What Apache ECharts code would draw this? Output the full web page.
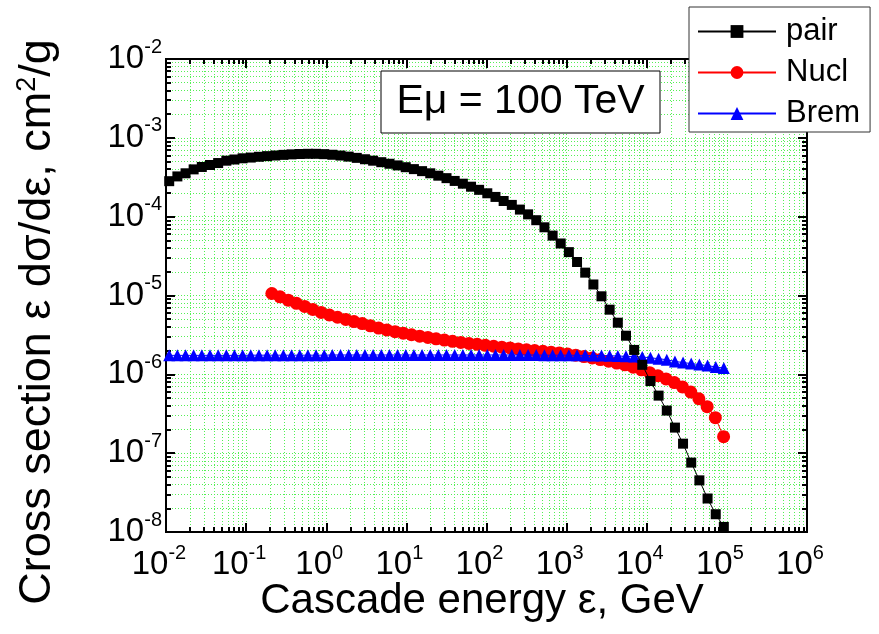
<!DOCTYPE html>
<html><head><meta charset="utf-8">
<script src="https://cdn.jsdelivr.net/npm/echarts@6/dist/echarts.min.js"></script>
<style>html,body{margin:0;padding:0;background:#fff}#c{width:879px;height:634px}</style>
</head><body><div id="c"></div>
<script>
// ---- data ----
const xMajorExp = [-2,-1,0,1,2,3,4,5,6];
const yMajorExp = [-8,-7,-6,-5,-4,-3,-2];
const minorMult = [2,3,4,5,6,7,8,9];

// log10 of cascade energy (GeV) for pair and Brem points
const pairExp = [-1.960,-1.858,-1.756,-1.655,-1.553,-1.451,-1.349,-1.247,-1.146,-1.044,
 -0.942,-0.840,-0.738,-0.637,-0.535,-0.433,-0.331,-0.229,-0.128,-0.026,
 0.076,0.178,0.280,0.381,0.483,0.585,0.687,0.789,0.890,0.992,
 1.094,1.196,1.298,1.399,1.501,1.603,1.705,1.807,1.908,2.010,
 2.112,2.214,2.316,2.417,2.519,2.621,2.723,2.825,2.926,3.028,
 3.130,3.232,3.334,3.435,3.537,3.639,3.741,3.843,3.944,4.046,
 4.148,4.250,4.352,4.453,4.555,4.657,4.759,4.861,4.962];
const pairVal = [2.82e-4,3.24e-4,3.55e-4,3.98e-4,4.27e-4,4.52e-4,4.79e-4,5.13e-4,5.31e-4,5.50e-4,
 5.62e-4,5.75e-4,5.86e-4,5.97e-4,6.08e-4,6.17e-4,6.24e-4,6.27e-4,6.27e-4,6.21e-4,
 6.10e-4,5.96e-4,5.78e-4,5.57e-4,5.35e-4,5.13e-4,4.91e-4,4.69e-4,4.47e-4,4.24e-4,
 4.01e-4,3.78e-4,3.55e-4,3.31e-4,3.08e-4,2.84e-4,2.62e-4,2.40e-4,2.19e-4,1.98e-4,
 1.78e-4,1.58e-4,1.41e-4,1.23e-4,1.07e-4,9.02e-5,7.33e-5,5.75e-5,4.57e-5,3.55e-5,
 2.66e-5,1.95e-5,1.38e-5,9.77e-6,6.61e-6,4.52e-6,3.09e-6,2.04e-6,1.32e-6,8.22e-7,
 5.37e-7,3.47e-7,2.11e-7,1.32e-7,7.59e-8,4.52e-8,2.66e-8,1.68e-8,1.16e-8];
const bremVal = [1.74e-6,1.74e-6,1.74e-6,1.74e-6,1.74e-6,1.74e-6,1.74e-6,1.74e-6,1.74e-6,1.74e-6,
 1.75e-6,1.75e-6,1.75e-6,1.75e-6,1.75e-6,1.75e-6,1.75e-6,1.75e-6,1.75e-6,1.75e-6,
 1.76e-6,1.76e-6,1.76e-6,1.76e-6,1.76e-6,1.76e-6,1.76e-6,1.76e-6,1.76e-6,1.76e-6,
 1.76e-6,1.76e-6,1.76e-6,1.76e-6,1.76e-6,1.76e-6,1.76e-6,1.76e-6,1.76e-6,1.76e-6,
 1.76e-6,1.76e-6,1.76e-6,1.76e-6,1.76e-6,1.76e-6,1.75e-6,1.75e-6,1.75e-6,1.75e-6,
 1.74e-6,1.74e-6,1.73e-6,1.73e-6,1.72e-6,1.71e-6,1.69e-6,1.68e-6,1.66e-6,1.62e-6,
 1.58e-6,1.53e-6,1.46e-6,1.41e-6,1.37e-6,1.33e-6,1.29e-6,1.24e-6,1.20e-6];
// log10 of cascade energy for Nucl points
const nuclExp = [-0.679,-0.577,-0.474,-0.372,-0.269,-0.167,-0.064,0.039,0.141,0.244,
 0.346,0.449,0.551,0.654,0.756,0.859,0.961,1.064,1.166,1.269,
 1.371,1.474,1.576,1.679,1.781,1.884,1.986,2.089,2.191,2.294,
 2.396,2.499,2.601,2.704,2.806,2.909,3.011,3.114,3.216,3.319,
 3.421,3.524,3.626,3.729,3.831,3.934,4.036,4.139,4.241,4.344,
 4.446,4.549,4.651,4.754,4.856,4.959];
const nuclVal = [1.06e-5,9.62e-6,8.73e-6,7.96e-6,7.26e-6,6.64e-6,6.10e-6,5.66e-6,5.30e-6,4.97e-6,
 4.67e-6,4.40e-6,4.12e-6,3.86e-6,3.66e-6,3.48e-6,3.33e-6,3.18e-6,3.05e-6,2.94e-6,
 2.82e-6,2.72e-6,2.62e-6,2.54e-6,2.47e-6,2.40e-6,2.33e-6,2.27e-6,2.21e-6,2.16e-6,
 2.10e-6,2.05e-6,2.00e-6,1.96e-6,1.91e-6,1.87e-6,1.81e-6,1.75e-6,1.68e-6,1.61e-6,
 1.54e-6,1.47e-6,1.39e-6,1.32e-6,1.23e-6,1.14e-6,1.05e-6,9.59e-7,8.75e-7,7.85e-7,
 6.92e-7,5.96e-7,4.90e-7,3.89e-7,2.82e-7,1.62e-7];

// ---- build ----
const FONT = 'Liberation Sans, Arial, Helvetica, sans-serif';
const GREEN = '#55f055';
const pw = e => Math.pow(10, e);
const xMajor = xMajorExp.map(pw);
const yMajor = yMajorExp.map(pw);
function minorOf(exps){
  const out = [];
  for (let i = 0; i < exps.length - 1; i++) for (const m of minorMult) out.push(m * pw(exps[i]));
  return out;
}
const xMinor = minorOf(xMajorExp);
const yMinor = minorOf(yMajorExp);

const labelFmt = v => '{b|10}{s|' + Math.round(Math.log10(v)) + '}';
const labelRich = {
  b: {fontFamily: FONT, fontSize: 33, lineHeight: 44, color: '#000'},
  s: {fontFamily: FONT, fontSize: 20, lineHeight: 20, verticalAlign: 'top', color: '#000'}
};
const splitStyle = {show: true, lineStyle: {color: GREEN, width: 1, type: [1, 2]}};

function mkAxis(kind, pos, major, withLabel) {
  const isX = kind === 'x';
  const ticks = major ? (isX ? xMajor : yMajor) : (isX ? xMinor : yMinor);
  return {
    type: 'log', logBase: 10,
    min: isX ? 0.01 : 1e-8, max: isX ? 1e6 : 1e-2,
    position: pos,
    axisLine: {show: true, onZero: false, lineStyle: {color: '#000', width: 2}},
    axisTick: {show: true, inside: true, length: major ? 9 : 5,
      lineStyle: {color: '#000', width: 2}, customValues: ticks},
    minorTick: {show: false},
    axisLabel: withLabel ? {show: true, customValues: ticks, formatter: labelFmt, rich: labelRich,
      margin: isX ? 11 : 4, padding: isX ? [0, 14, 0, 0] : 0} : {show: false},
    splitLine: (pos === 'bottom' || pos === 'left') ? splitStyle : {show: false},
    minorSplitLine: {show: false}
  };
}

const chart = echarts.init(document.getElementById('c'));
chart.setOption({
  animation: false,
  backgroundColor: '#fff',
  grid: {left: 166, top: 59, right: 72, bottom: 102, containLabel: false},
  xAxis: [mkAxis('x','bottom',true,true), mkAxis('x','bottom',false,false),
          mkAxis('x','top',true,false), mkAxis('x','top',false,false)],
  yAxis: [mkAxis('y','left',true,true), mkAxis('y','left',false,false),
          mkAxis('y','right',true,false), mkAxis('y','right',false,false)],
  legend: {
    orient: 'vertical', left: 689, top: 7, padding: [9, 10, 3, 8],
    itemWidth: 78, itemHeight: 16, itemGap: 10,
    backgroundColor: '#fff', borderColor: '#333', borderWidth: 1, borderRadius: 0,
    textStyle: {fontFamily: FONT, fontSize: 31, color: '#000', lineHeight: 31, padding: [0, 0, 0, 5]},
    data: ['pair', 'Nucl', 'Brem'], selectedMode: false, z: 10
  },
  graphic: [
    {type: 'rect', shape: {x: 381, y: 71, width: 279, height: 62},
     style: {fill: '#fff', stroke: '#000', lineWidth: 1}, z: 10},
    {type: 'text', x: 520.5, y: 102, z: 11,
     style: {text: 'E\u03bc = 100 TeV', fontFamily: FONT, fontSize: 41, fill: '#000',
       align: 'center', verticalAlign: 'middle'}},
    {type: 'text', x: 482, y: 601, z: 11,
     style: {text: 'Cascade energy \u03b5, GeV', fontFamily: FONT, fontSize: 42, fill: '#000',
       align: 'center', verticalAlign: 'middle'}},
    {type: 'text', x: 38, y: 322, rotation: Math.PI / 2, z: 11,
     style: {text: 'Cross section \u03b5 d\u03c3/d\u03b5, cm{s|2}/g', fontFamily: FONT, fontSize: 45,
       lineHeight: 48, fill: '#000', align: 'center', verticalAlign: 'middle',
       rich: {s: {fontFamily: FONT, fontSize: 27, lineHeight: 27, verticalAlign: 'top', fill: '#000'}}}}
  ],
  series: [
    {name: 'pair', type: 'line', xAxisIndex: 0, yAxisIndex: 0,
     data: pairExp.map((e, i) => [pw(e), pairVal[i]]),
     symbol: 'rect', symbolSize: 10, showAllSymbol: true, z: 4,
     itemStyle: {color: '#000'}, lineStyle: {color: '#000', width: 1}},
    {name: 'Nucl', type: 'line', xAxisIndex: 0, yAxisIndex: 0,
     data: nuclExp.map((e, i) => [pw(e), nuclVal[i]]),
     symbol: 'circle', symbolSize: 13, showAllSymbol: true, z: 2,
     itemStyle: {color: '#ff0000'}, lineStyle: {color: '#ff0000', width: 1}},
    {name: 'Brem', type: 'line', xAxisIndex: 0, yAxisIndex: 0,
     data: pairExp.map((e, i) => [pw(e), bremVal[i]]),
     symbol: 'triangle', symbolSize: 12, showAllSymbol: true, z: 3,
     itemStyle: {color: '#0000ff'}, lineStyle: {color: '#0000ff', width: 1}}
  ]
});
</script></body></html>
